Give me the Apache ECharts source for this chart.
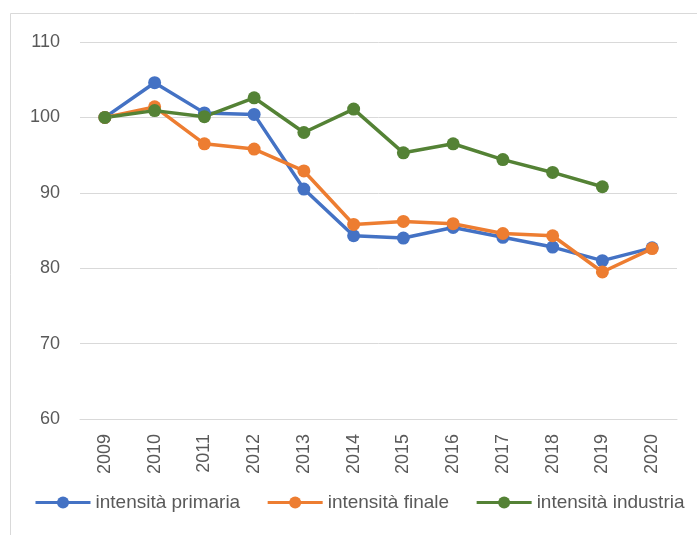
<!DOCTYPE html>
<html>
<head>
<meta charset="utf-8">
<script src="https://cdn.jsdelivr.net/npm/echarts@6/dist/echarts.min.js"></script>
<style>
  html, body { margin: 0; padding: 0; background: #ffffff; }
  #chart { width: 697px; height: 535px; }
</style>
</head>
<body>
<div id="chart"></div>
<script>
// Energy intensity indices (2009 = 100)
const years = ['2009', '2010', '2011', '2012', '2013', '2014', '2015', '2016', '2017', '2018', '2019', '2020'];
const intensitaPrimaria = [100, 104.6, 100.6, 100.4, 90.5, 84.3, 84.0, 85.4, 84.1, 82.8, 81.0, 82.7];
const intensitaFinale = [100, 101.4, 96.5, 95.8, 92.9, 85.8, 86.2, 85.9, 84.6, 84.3, 79.5, 82.6];
const intensitaIndustria = [100, 100.9, 100.1, 102.6, 98.0, 101.1, 95.3, 96.5, 94.4, 92.7, 90.8, null];
const seriesNames = ['intensità primaria', 'intensità finale', 'intensità industria'];
const yMin = 60, yMax = 110, yStep = 10;

const font = '"Liberation Sans", Arial, sans-serif';
const colors = ['#4472C4', '#ED7D31', '#548235'];

function lineSeries(name, data, color) {
  return {
    name: name,
    type: 'line',
    data: data,
    symbol: 'circle',
    symbolSize: 13,
    connectNulls: false,
    itemStyle: { color: color },
    lineStyle: { color: color, width: 3.5 },
    emphasis: { disabled: true },
    animation: false
  };
}

const chart = echarts.init(document.getElementById('chart'), null, { renderer: 'canvas' });
chart.setOption({
  backgroundColor: '#ffffff',
  animation: false,
  graphic: [{
    type: 'rect',
    shape: { x: 10.5, y: 13.5, width: 720, height: 560 },
    style: { fill: 'none', stroke: '#D9D9D9', lineWidth: 1 },
    silent: true,
    z: -10
  }],
  grid: { left: 80, right: 20, top: 42, bottom: 116, containLabel: false },
  legend: {
    left: 34,
    top: 493,
    width: 663,
    padding: 0,
    itemWidth: 55,
    itemHeight: 15,
    itemGap: 26,
    data: seriesNames,
    lineStyle: { width: 3 },
    textStyle: { fontFamily: font, fontSize: 19, color: '#595959' }
  },
  xAxis: {
    type: 'category',
    data: years,
    boundaryGap: true,
    axisLine: { show: true, lineStyle: { color: '#D9D9D9', width: 1 } },
    axisTick: { show: false },
    axisLabel: {
      rotate: 90,
      margin: 15,
      interval: 0,
      fontFamily: font,
      fontSize: 18,
      color: '#595959'
    }
  },
  yAxis: {
    type: 'value',
    min: yMin,
    max: yMax,
    interval: yStep,
    axisLine: { show: false },
    axisTick: { show: false },
    splitLine: { lineStyle: { color: '#D9D9D9', width: 1 } },
    axisLabel: {
      margin: 20,
      fontFamily: font,
      fontSize: 18,
      color: '#595959'
    }
  },
  series: [
    lineSeries(seriesNames[0], intensitaPrimaria, colors[0]),
    lineSeries(seriesNames[1], intensitaFinale, colors[1]),
    lineSeries(seriesNames[2], intensitaIndustria, colors[2])
  ]
});
</script>
</body>
</html>
